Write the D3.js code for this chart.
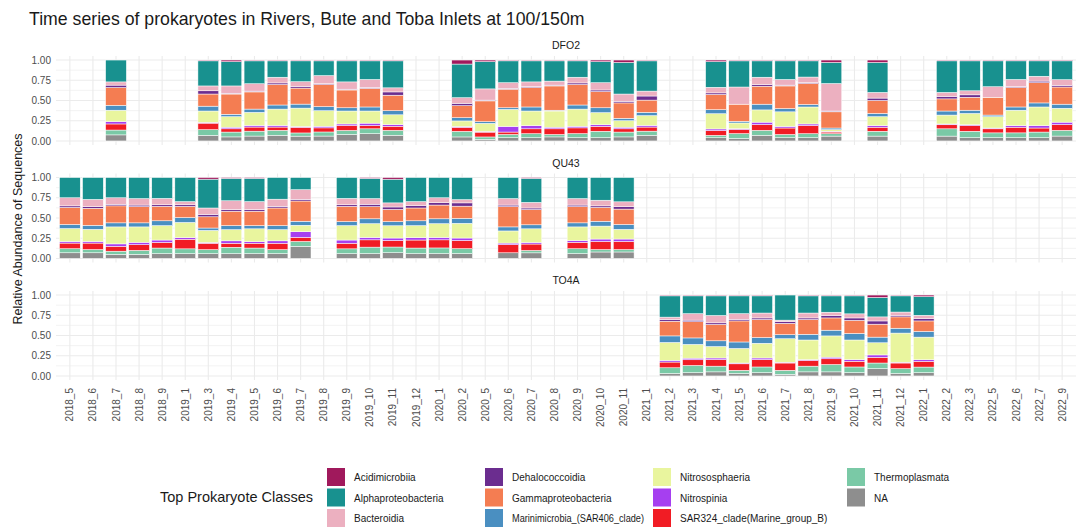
<!DOCTYPE html>
<html>
<head>
<meta charset="utf-8">
<script src="https://cdn.jsdelivr.net/npm/d3@7"></script>
<style>
  html, body { margin: 0; padding: 0; background: #fff; }
  svg { display: block; font-family: "Liberation Sans", Arial, Helvetica, sans-serif; }
</style>
</head>
<body>
<svg id="chart" width="1079" height="531"></svg>
<script>
// ---------------- DATA ----------------
const classes = ["Acidimicrobiia", "Alphaproteobacteria", "Bacteroidia", "Dehalococcoidia",
  "Gammaproteobacteria", "Marinimicrobia_(SAR406_clade)", "Nitrososphaeria", "Nitrospinia",
  "SAR324_clade(Marine_group_B)", "Thermoplasmata", "NA"];
const classColors = ["#A0195C", "#18918F", "#ECB0C0", "#6B2D8F", "#F47D52", "#4A8FC1",
  "#E9F59E", "#A63FF0", "#F11C24", "#7AC9A6", "#8E8E8E"];

const months = ["2018_5","2018_6","2018_7","2018_8","2018_9","2019_1","2019_3","2019_4","2019_5",
  "2019_6","2019_7","2019_8","2019_9","2019_10","2019_11","2019_12","2020_1","2020_2","2020_5",
  "2020_6","2020_7","2020_8","2020_9","2020_10","2020_11","2021_1","2021_2","2021_3","2021_4",
  "2021_5","2021_6","2021_7","2021_8","2021_9","2021_10","2021_11","2021_12","2022_1","2022_2",
  "2022_3","2022_5","2022_6","2022_7","2022_9"];

const stations = ["DFO2", "QU43", "TO4A"];
const yTicks = [0, 0.25, 0.5, 0.75, 1];

// values per bar, in the order of `classes`
const dfo2Months = ["2018_7","2019_3","2019_4","2019_5","2019_6","2019_7","2019_8","2019_9","2019_10",
  "2019_11","2020_2","2020_5","2020_6","2020_7","2020_8","2020_9","2020_10","2020_11","2021_1",
  "2021_4","2021_5","2021_6","2021_7","2021_8","2021_9","2021_11","2022_2","2022_3","2022_5",
  "2022_6","2022_7","2022_9"];
const dfo2Values = [
  [0.00,0.27,0.04,0.03,0.22,0.06,0.14,0.03,0.075,0.06,0.075],
  [0.01,0.31,0.06,0.04,0.15,0.06,0.14,0.01,0.08,0.07,0.07],
  [0.02,0.30,0.09,0.01,0.25,0.03,0.13,0.02,0.04,0.06,0.05],
  [0.01,0.28,0.09,0.01,0.21,0.04,0.16,0.02,0.05,0.06,0.06],
  [0.01,0.20,0.07,0.02,0.25,0.05,0.20,0.02,0.04,0.06,0.07],
  [0.01,0.26,0.06,0.02,0.20,0.05,0.23,0.01,0.07,0.04,0.06],
  [0.01,0.18,0.10,0.01,0.27,0.05,0.19,0.02,0.05,0.05,0.06],
  [0.01,0.26,0.09,0.01,0.22,0.04,0.16,0.02,0.06,0.05,0.08],
  [0.01,0.23,0.10,0.01,0.23,0.05,0.15,0.03,0.04,0.06,0.09],
  [0.01,0.33,0.05,0.04,0.19,0.05,0.12,0.02,0.05,0.06,0.07],
  [0.05,0.42,0.07,0.03,0.15,0.04,0.07,0.01,0.05,0.07,0.05],
  [0.02,0.34,0.14,0.01,0.26,0.02,0.10,0.01,0.06,0.03,0.02],
  [0.01,0.27,0.07,0.01,0.23,0.02,0.21,0.07,0.03,0.04,0.04],
  [0.01,0.26,0.06,0.01,0.24,0.05,0.18,0.04,0.06,0.05,0.04],
  [0.01,0.25,0.05,0.01,0.30,0.01,0.20,0.02,0.07,0.03,0.05],
  [0.01,0.20,0.07,0.02,0.25,0.05,0.21,0.02,0.07,0.05,0.04],
  [0.02,0.26,0.09,0.02,0.20,0.06,0.15,0.02,0.06,0.08,0.04],
  [0.03,0.39,0.09,0.02,0.19,0.03,0.08,0.02,0.04,0.06,0.05],
  [0.01,0.37,0.06,0.05,0.15,0.04,0.12,0.02,0.05,0.05,0.07],
  [0.02,0.32,0.07,0.02,0.19,0.05,0.19,0.02,0.06,0.03,0.04],
  [0.01,0.32,0.21,0.00,0.21,0.02,0.07,0.01,0.05,0.06,0.03],
  [0.01,0.20,0.09,0.02,0.22,0.07,0.15,0.03,0.07,0.06,0.07],
  [0.01,0.23,0.07,0.01,0.28,0.04,0.18,0.02,0.08,0.04,0.04],
  [0.01,0.20,0.07,0.01,0.26,0.03,0.21,0.02,0.10,0.05,0.04],
  [0.03,0.26,0.34,0.01,0.20,0.02,0.02,0.01,0.02,0.03,0.06],
  [0.03,0.37,0.07,0.03,0.16,0.04,0.11,0.02,0.05,0.06,0.06],
  [0.01,0.39,0.05,0.03,0.15,0.05,0.11,0.01,0.05,0.09,0.06],
  [0.01,0.37,0.05,0.03,0.16,0.04,0.14,0.01,0.07,0.08,0.04],
  [0.01,0.32,0.13,0.00,0.22,0.02,0.14,0.01,0.05,0.06,0.04],
  [0.01,0.23,0.09,0.01,0.24,0.04,0.19,0.02,0.07,0.06,0.04],
  [0.01,0.19,0.06,0.02,0.25,0.05,0.23,0.03,0.05,0.07,0.04],
  [0.01,0.23,0.07,0.02,0.21,0.05,0.17,0.03,0.07,0.07,0.06]
];

const qu43Months = ["2018_5","2018_6","2018_7","2018_8","2018_9","2019_1","2019_3","2019_4","2019_5",
  "2019_6","2019_7","2019_9","2019_10","2019_11","2019_12","2020_1","2020_2","2020_6","2020_7",
  "2020_9","2020_10","2020_11"];
const qu43Values = [
  [0.00,0.25,0.10,0.02,0.21,0.05,0.16,0.02,0.07,0.05,0.07],
  [0.00,0.27,0.09,0.02,0.21,0.05,0.15,0.02,0.08,0.04,0.07],
  [0.00,0.25,0.08,0.02,0.21,0.05,0.21,0.03,0.06,0.04,0.05],
  [0.00,0.26,0.08,0.02,0.20,0.05,0.19,0.03,0.07,0.05,0.05],
  [0.00,0.26,0.08,0.02,0.18,0.06,0.18,0.03,0.07,0.07,0.06],
  [0.00,0.30,0.04,0.02,0.14,0.06,0.19,0.02,0.12,0.06,0.06],
  [0.02,0.36,0.08,0.03,0.14,0.03,0.15,0.01,0.08,0.05,0.06],
  [0.01,0.28,0.11,0.02,0.18,0.05,0.14,0.03,0.05,0.08,0.06],
  [0.01,0.29,0.10,0.02,0.18,0.04,0.16,0.02,0.06,0.07,0.06],
  [0.00,0.27,0.09,0.02,0.22,0.05,0.14,0.03,0.08,0.05,0.06],
  [0.00,0.15,0.12,0.02,0.25,0.05,0.08,0.07,0.05,0.06,0.15],
  [0.00,0.26,0.08,0.02,0.19,0.05,0.18,0.04,0.07,0.06,0.06],
  [0.01,0.25,0.07,0.03,0.15,0.06,0.17,0.03,0.09,0.08,0.06],
  [0.02,0.29,0.05,0.03,0.15,0.05,0.15,0.03,0.08,0.07,0.07],
  [0.00,0.30,0.05,0.03,0.16,0.06,0.15,0.03,0.10,0.07,0.06],
  [0.00,0.25,0.06,0.03,0.17,0.06,0.17,0.03,0.10,0.07,0.06],
  [0.00,0.27,0.04,0.04,0.15,0.06,0.18,0.03,0.10,0.06,0.06],
  [0.00,0.26,0.08,0.02,0.25,0.05,0.15,0.02,0.10,0.00,0.07],
  [0.01,0.30,0.07,0.02,0.19,0.05,0.17,0.02,0.08,0.03,0.07],
  [0.00,0.26,0.08,0.02,0.20,0.05,0.17,0.02,0.08,0.06,0.06],
  [0.00,0.28,0.07,0.02,0.17,0.06,0.16,0.03,0.10,0.03,0.08],
  [0.00,0.30,0.06,0.03,0.19,0.06,0.12,0.03,0.10,0.03,0.08]
];

const to4aMonths = ["2021_2","2021_3","2021_4","2021_5","2021_6","2021_7","2021_8","2021_9","2021_10",
  "2021_11","2021_12","2022_1"];
const to4aValues = [
  [0.01,0.26,0.03,0.02,0.18,0.08,0.22,0.02,0.07,0.07,0.03],
  [0.01,0.22,0.08,0.02,0.20,0.08,0.17,0.02,0.07,0.09,0.04],
  [0.01,0.24,0.09,0.02,0.20,0.07,0.14,0.02,0.08,0.07,0.05],
  [0.01,0.22,0.07,0.02,0.26,0.08,0.18,0.01,0.08,0.04,0.03],
  [0.01,0.21,0.06,0.02,0.22,0.07,0.18,0.02,0.09,0.07,0.04],
  [0.00,0.31,0.02,0.02,0.14,0.05,0.29,0.01,0.09,0.05,0.02],
  [0.01,0.21,0.06,0.02,0.18,0.07,0.24,0.01,0.07,0.07,0.05],
  [0.01,0.20,0.04,0.03,0.15,0.07,0.26,0.02,0.07,0.09,0.05],
  [0.01,0.22,0.05,0.03,0.16,0.08,0.24,0.02,0.07,0.07,0.04],
  [0.03,0.24,0.05,0.04,0.16,0.07,0.15,0.03,0.07,0.07,0.09],
  [0.01,0.20,0.04,0.02,0.14,0.06,0.36,0.01,0.07,0.06,0.03],
  [0.02,0.23,0.04,0.03,0.13,0.07,0.28,0.02,0.07,0.07,0.04]
];

const stationData = [
  { name: stations[0], months: dfo2Months, values: dfo2Values },
  { name: stations[1], months: qu43Months, values: qu43Values },
  { name: stations[2], months: to4aMonths, values: to4aValues }
];

// ---------------- LAYOUT ----------------
const svg = d3.select("#chart");
const panelLeft = 56, panelRight = 1076;
const panelTops = [56, 173.5, 291];
const panelH = 89;
const gridCol = "#EBEBEB";
const textCol = "#4D4D4D";

const x = d3.scaleBand().domain(months).range([panelLeft, panelRight])
  .paddingInner(0.1).paddingOuter(0.15);
const color = d3.scaleOrdinal().domain(classes).range(classColors);

// Title
svg.append("text").attr("x", 29).attr("y", 25)
  .attr("font-size", 17.7).attr("fill", "#1a1a1a")
  .text("Time series of prokaryotes in Rivers, Bute and Toba Inlets at 100/150m");

// Y axis title
svg.append("text")
  .attr("transform", `translate(22, 229) rotate(-90)`)
  .attr("text-anchor", "middle").attr("font-size", 12.5).attr("fill", "#1a1a1a")
  .text("Relative Abundance of Sequences");

const stackKeys = classes.slice().reverse(); // NA at bottom, Acidimicrobiia on top
const stackGen = d3.stack().keys(stackKeys).offset(d3.stackOffsetExpand);

stationData.forEach((st, i) => {
  const top = panelTops[i];
  const y = d3.scaleLinear().domain([-0.05, 1.05]).range([top + panelH, top]);
  const g = svg.append("g");

  // strip label
  g.append("text").attr("x", (panelLeft + panelRight) / 2).attr("y", top - 7)
    .attr("text-anchor", "middle").attr("font-size", 10.5).attr("fill", "#1a1a1a")
    .text(st.name);

  // minor horizontal grid
  const minor = [0.125, 0.375, 0.625, 0.875];
  g.selectAll(".minor").data(minor).enter().append("line")
    .attr("x1", panelLeft).attr("x2", panelRight)
    .attr("y1", d => y(d)).attr("y2", d => y(d))
    .attr("stroke", gridCol).attr("stroke-width", 0.6);
  // major horizontal grid
  g.selectAll(".major").data(yTicks).enter().append("line")
    .attr("x1", panelLeft).attr("x2", panelRight)
    .attr("y1", d => y(d)).attr("y2", d => y(d))
    .attr("stroke", gridCol).attr("stroke-width", 1.1);
  // vertical grid
  g.selectAll(".vg").data(months).enter().append("line")
    .attr("x1", d => x(d) + x.bandwidth() / 2).attr("x2", d => x(d) + x.bandwidth() / 2)
    .attr("y1", top).attr("y2", top + panelH)
    .attr("stroke", gridCol).attr("stroke-width", 1.1);

  // y axis
  const ya = g.append("g").attr("transform", `translate(${panelLeft},0)`)
    .call(d3.axisLeft(y).tickValues(yTicks).tickFormat(d3.format(".2f")).tickSize(0).tickPadding(5));
  ya.select(".domain").remove();
  ya.selectAll("text").attr("font-size", 10).attr("fill", textCol)
    .attr("font-family", "'Liberation Sans', Arial, sans-serif");

  // bars
  const rows = st.months.map((m, j) => {
    const o = { month: m };
    classes.forEach((c, k) => { o[c] = st.values[j][k]; });
    return o;
  });
  const series = stackGen(rows);
  g.selectAll(".layer").data(series).enter().append("g")
    .attr("fill", d => color(d.key))
    .selectAll("rect").data(d => d).enter().append("rect")
    .attr("x", d => x(d.data.month))
    .attr("width", x.bandwidth())
    .attr("y", d => y(d[1]))
    .attr("height", d => Math.max(0, y(d[0]) - y(d[1])))
    .attr("stroke", "#ffffff").attr("stroke-width", 0.5);

  // x axis on bottom panel only
  if (i === stationData.length - 1) {
    const xa = g.append("g").attr("transform", `translate(0, ${top + panelH})`)
      .call(d3.axisBottom(x).tickSize(0).tickPadding(0));
    xa.select(".domain").remove();
    xa.selectAll("text")
      .attr("font-size", 10).attr("fill", textCol)
      .attr("font-family", "'Liberation Sans', Arial, sans-serif")
      .attr("text-anchor", "end")
      .attr("dy", null)
      .attr("transform", "translate(3.5, 8) rotate(-90)");
  }
});

// ---------------- LEGEND ----------------
const legend = svg.append("g");
legend.append("text").attr("x", 160).attr("y", 502)
  .attr("font-size", 14.5).attr("fill", "#1a1a1a").text("Top Prokaryote Classes");
const colX = [327, 485, 653, 847];
const rowY = [468, 488.5, 509];
classes.forEach((c, k) => {
  const col = Math.floor(k / 3), row = k % 3;
  const gx = colX[col], gy = rowY[row];
  legend.append("rect").attr("x", gx).attr("y", gy).attr("width", 18).attr("height", 18)
    .attr("fill", color(c));
  const t = legend.append("text").attr("x", gx + 27).attr("y", gy + 13)
    .attr("font-size", 10).attr("fill", "#1a1a1a").text(c);
  const avail = (col + 1 < colX.length ? colX[col + 1] : 1079) - gx - 27 - 9;
  const w = t.node().getComputedTextLength();
  if (w > avail) t.attr("textLength", avail).attr("lengthAdjust", "spacingAndGlyphs");
});
</script>
</body>
</html>
